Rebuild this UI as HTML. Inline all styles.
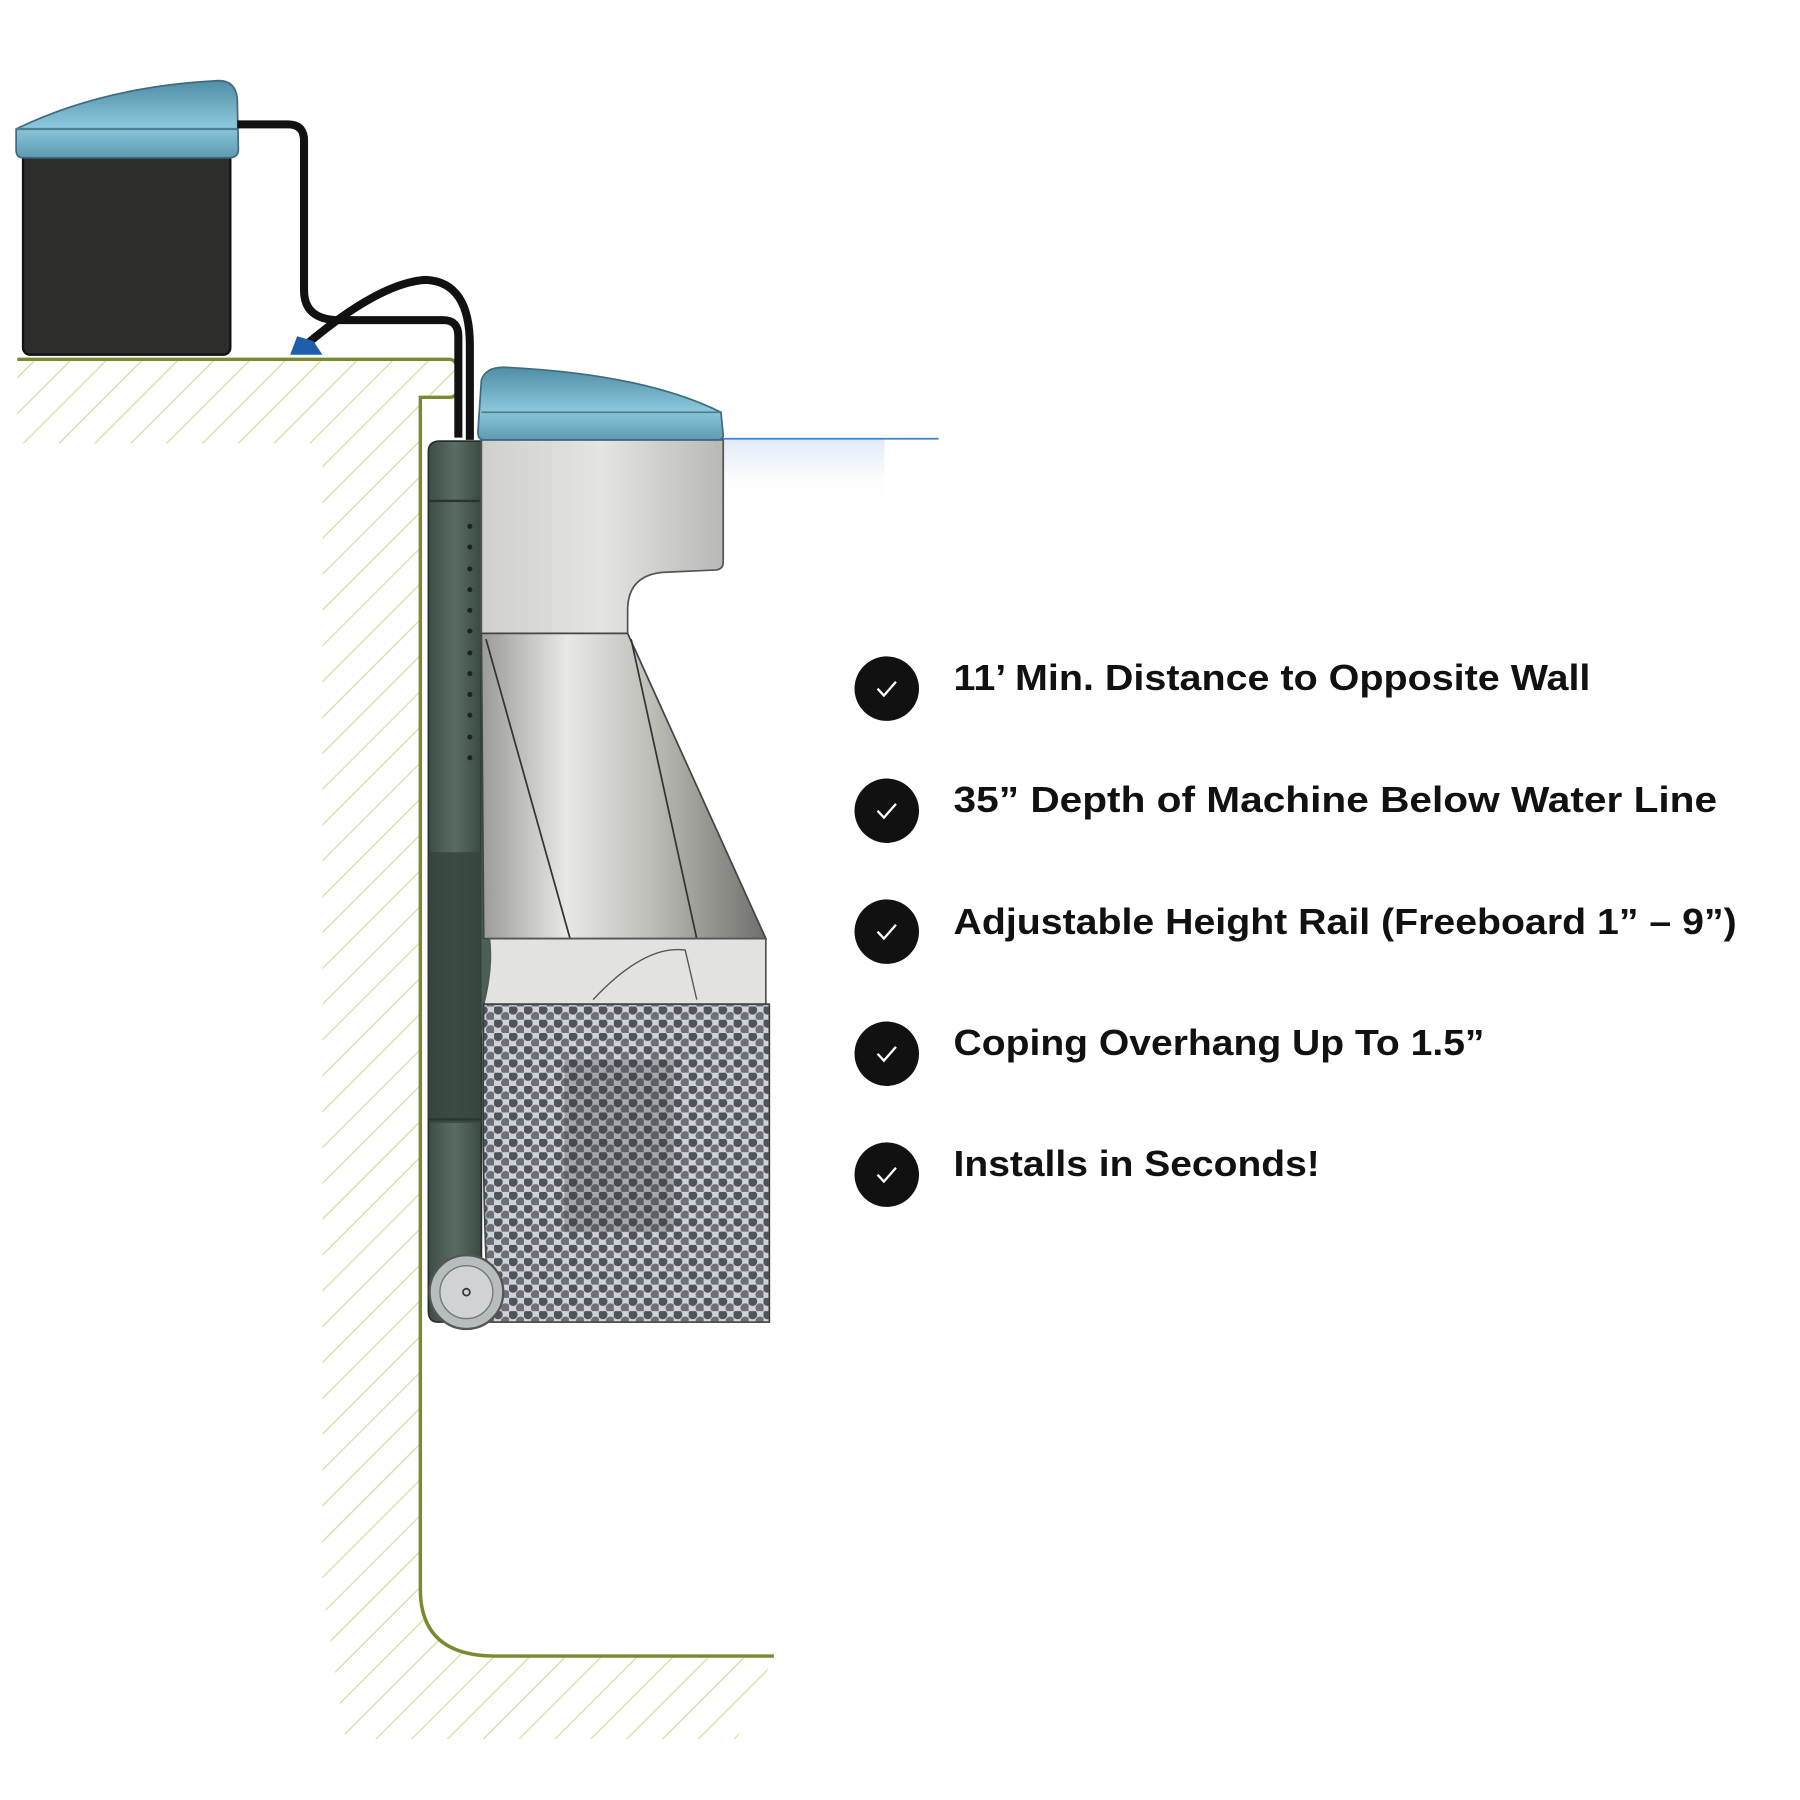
<!DOCTYPE html>
<html><head><style>html,body{margin:0;padding:0;background:#fff}svg{display:block}</style></head>
<body>
<svg width="1800" height="1800" viewBox="0 0 1563 1563" xmlns="http://www.w3.org/2000/svg">
<defs>
<pattern id="hatch" patternUnits="userSpaceOnUse" width="22" height="22" patternTransform="rotate(45)">
<rect width="22" height="22" fill="#fff"/>
<line x1="0" y1="0" x2="0" y2="22" stroke="#d4dea0" stroke-width="2.2"/>
</pattern>
<linearGradient id="lid" x1="0" y1="0" x2="0" y2="1"><stop offset="0" stop-color="#4f8ea5"/><stop offset="0.6" stop-color="#8cc7dc"/><stop offset="1" stop-color="#5f9ab0"/></linearGradient>
<linearGradient id="grey" x1="0" y1="0" x2="1" y2="0"><stop offset="0" stop-color="#cfcfcc"/><stop offset="0.5" stop-color="#e4e4e1"/><stop offset="1" stop-color="#b8b8b4"/></linearGradient>
<linearGradient id="cone" x1="0" y1="0" x2="1" y2="0"><stop offset="0" stop-color="#9a9a96"/><stop offset="0.3" stop-color="#e8e8e6"/><stop offset="0.6" stop-color="#bdbdb8"/><stop offset="1" stop-color="#6f6f6b"/></linearGradient>
<linearGradient id="green" x1="0" y1="0" x2="1" y2="0"><stop offset="0" stop-color="#3c4d45"/><stop offset="0.5" stop-color="#5a6d63"/><stop offset="1" stop-color="#3a4a42"/></linearGradient>
<pattern id="mesh" patternUnits="userSpaceOnUse" width="13" height="11.5">
<rect width="13" height="11.5" fill="#c8ccd4"/>
<circle cx="3.5" cy="3" r="4" fill="#3a3c44"/>
<circle cx="10" cy="8.7" r="4" fill="#5a5c64"/>
</pattern>
<linearGradient id="fadeblue" x1="0" y1="0" x2="0" y2="1"><stop offset="0" stop-color="#dfe9f5"/><stop offset="1" stop-color="#fff" stop-opacity="0"/></linearGradient>
</defs>

<path d="M15 312 L390 312 Q397 312 397 322 L397 338 Q397 345 390 345 L365 345 L365 1380 Q365 1438 430 1438 L672 1438 L640 1510 L300 1510 L280 1380 L280 385 L15 385 Z" fill="url(#hatch)"/>
<path d="M15 312 L390 312 Q397 312 397 322 L397 338 Q397 345 390 345 L365 345 L365 1380 Q365 1438 430 1438 L672 1438" fill="none" stroke="#7a8a30" stroke-width="3"/>

<rect x="20" y="132" width="180" height="176" rx="6" fill="#2d2e2b" stroke="#111" stroke-width="2"/>
<path d="M14 112 Q90 75 190 70 Q204 70 206 85 L207 130 Q207 136 200 137 L20 137 Q14 137 14 130 Z" fill="url(#lid)" stroke="#3d6c80" stroke-width="1.5"/>
<line x1="14" y1="112" x2="206" y2="112" stroke="#4d7f94" stroke-width="2"/>
<path d="M206 108 L250 108 Q264 108 264 122 L264 252 Q264 278 295 278 L385 278 Q398 278 398 292 L398 380" fill="none" stroke="#111" stroke-width="7"/>
<path d="M265 300 Q330 245 370 243 Q408 245 408 300 L408 382" fill="none" stroke="#111" stroke-width="7"/>
<path d="M252 308 L258 292 L272 296 L280 308 Z" fill="#1d5fa8"/>

<rect x="628" y="381" width="140" height="60" fill="url(#fadeblue)"/>
<line x1="628" y1="381" x2="815" y2="381" stroke="#3d7fd0" stroke-width="1.5"/>

<path d="M372 392 Q372 383 382 383 L418 383 L418 1148 L380 1148 Q372 1148 372 1138 Z" fill="url(#green)" stroke="#24302a" stroke-width="1.5"/>
<path d="M418 555 L432 700 L432 820 L418 900 Z" fill="#4d6057"/>
<rect x="372" y="740" width="46" height="235" fill="#34443c" opacity="0.8"/>
<line x1="372" y1="435" x2="418" y2="435" stroke="#2a3530" stroke-width="2"/>
<line x1="372" y1="972" x2="418" y2="972" stroke="#2a3530" stroke-width="2"/>
<g fill="#1c2420">
<circle cx="408" cy="457" r="2.2"/><circle cx="408" cy="475" r="2.2"/><circle cx="408" cy="494" r="2.2"/><circle cx="408" cy="512" r="2.2"/><circle cx="408" cy="530" r="2.2"/><circle cx="408" cy="548" r="2.2"/><circle cx="408" cy="567" r="2.2"/><circle cx="408" cy="585" r="2.2"/><circle cx="408" cy="603" r="2.2"/><circle cx="408" cy="621" r="2.2"/><circle cx="408" cy="640" r="2.2"/><circle cx="408" cy="658" r="2.2"/>
</g>

<path d="M418 382 L628 382 L628 488 Q628 495 620 495 L575 497 Q545 500 545 530 L545 550 L418 550 Z" fill="url(#grey)" stroke="#555" stroke-width="1.5"/>
<path d="M418 330 Q422 318 440 319 Q560 325 626 358 L628 378 Q628 382 622 382 L420 382 Q415 382 415 375 Z" fill="url(#lid)" stroke="#3d6c80" stroke-width="1.5"/>
<line x1="418" y1="358" x2="627" y2="358" stroke="#4d7f94" stroke-width="1.5"/>
<path d="M418 550 L545 550 L665 815 L420 815 Z" fill="url(#cone)" stroke="#444" stroke-width="1.5"/>
<path d="M422 555 L495 815 M548 555 L605 815" stroke="#333" stroke-width="1.5" fill="none"/>
<path d="M425 815 L665 815 L665 872 L420 872 Q428 840 425 815 Z" fill="#e2e2de" stroke="#555" stroke-width="1.5"/>
<path d="M515 868 Q560 820 595 825 L605 868" fill="none" stroke="#555" stroke-width="1.2"/>
<path d="M420 872 L668 872 L668 1148 L425 1148 Q418 1050 420 872 Z" fill="url(#mesh)" stroke="#333" stroke-width="1.5"/>
<rect x="490" y="920" width="95" height="150" fill="#111" opacity="0.25"/>
<rect x="420" y="872" width="248" height="276" fill="#fff" opacity="0.12"/>
<circle cx="405" cy="1122" r="32" fill="#b7bcbf" stroke="#555" stroke-width="2"/>
<circle cx="405" cy="1122" r="23" fill="#cfd3d5" stroke="#777" stroke-width="1.2"/>
<circle cx="405" cy="1122" r="3" fill="none" stroke="#333" stroke-width="1.5"/>

<g font-family="Liberation Sans, sans-serif" font-weight="bold" font-size="31" fill="#111">
<g transform="translate(770,598)"><circle r="28" fill="#111"/><path d="M-8 0 L-2.5 6 L8 -6" stroke="#fff" stroke-width="2" fill="none"/></g>
<g transform="translate(770,704)"><circle r="28" fill="#111"/><path d="M-8 0 L-2.5 6 L8 -6" stroke="#fff" stroke-width="2" fill="none"/></g>
<g transform="translate(770,809)"><circle r="28" fill="#111"/><path d="M-8 0 L-2.5 6 L8 -6" stroke="#fff" stroke-width="2" fill="none"/></g>
<g transform="translate(770,915)"><circle r="28" fill="#111"/><path d="M-8 0 L-2.5 6 L8 -6" stroke="#fff" stroke-width="2" fill="none"/></g>
<g transform="translate(770,1020)"><circle r="28" fill="#111"/><path d="M-8 0 L-2.5 6 L8 -6" stroke="#fff" stroke-width="2" fill="none"/></g>
<text x="828" y="599" textLength="553" lengthAdjust="spacingAndGlyphs">11’ Min. Distance to Opposite Wall</text>
<text x="828" y="705" textLength="663" lengthAdjust="spacingAndGlyphs">35” Depth of Machine Below Water Line</text>
<text x="828" y="811" textLength="680" lengthAdjust="spacingAndGlyphs">Adjustable Height Rail (Freeboard 1” – 9”)</text>
<text x="828" y="916" textLength="461" lengthAdjust="spacingAndGlyphs">Coping Overhang Up To 1.5”</text>
<text x="828" y="1021" textLength="318" lengthAdjust="spacingAndGlyphs">Installs in Seconds!</text>
</g>
</svg>
</body></html>
